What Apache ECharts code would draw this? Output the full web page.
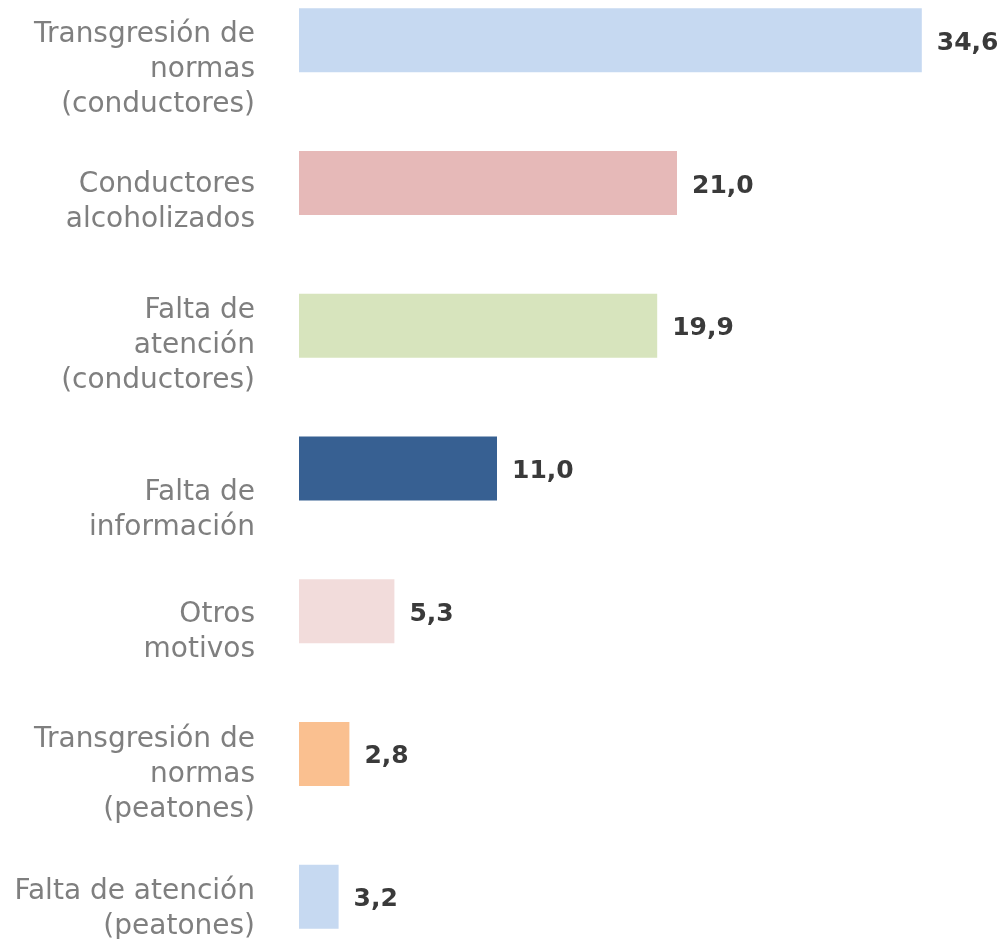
<!DOCTYPE html>
<html>
<head>
<meta charset="utf-8">
<script src="https://cdn.jsdelivr.net/npm/echarts@6/dist/echarts.min.js"></script>
<style>
  html, body { margin: 0; padding: 0; background: #fff; }
  #chart { width: 1003px; height: 939px; }
</style>
</head>
<body>
<div id="chart"></div>
<script>
// categorías (de arriba hacia abajo)
const categories = [
  'Transgresión de\nnormas\n(conductores)',
  'Conductores\nalcoholizados',
  'Falta de\natención\n(conductores)',
  'Falta de\ninformación',
  'Otros\nmotivos',
  'Transgresión de\nnormas\n(peatones)',
  'Falta de atención\n(peatones)'
];
// largo de las barras tal como se ven
const values = [34.6, 21.0, 19.9, 11.0, 5.3, 2.8, 2.2];
// etiquetas de valor impresas
const valueLabels = ['34,6', '21,0', '19,9', '11,0', '5,3', '2,8', '3,2'];

const palette = ['#c6d9f1', '#e6b9b8', '#d7e4bd', '#376092', '#f2dcdb', '#fac090', '#c6d9f1'];
// desplazamiento vertical (px) de cada etiqueta de categoría respecto a su barra
const labelShift = [29, 19, 20, 42, 21, 21, 13];

// estilos rich: una línea vacía arriba empuja el bloque hacia abajo
let rich = {
  t: {
    fontFamily: 'DejaVu Sans',
    fontSize: 28,
    lineHeight: 35,
    color: '#7f7f7f',
    align: 'right'
  }
};
labelShift.forEach((s, i) => {
  rich['g' + i] = { fontSize: 1, lineHeight: s * 2 };
});

let myChart = echarts.init(document.getElementById('chart'));

let option = {
  animation: false,
  grid: {
    left: 299,
    top: -31,
    width: 630,
    height: 999,
    containLabel: false,
    outerBoundsMode: 'none'
  },
  xAxis: {
    type: 'value',
    min: 0,
    max: 35,
    show: false
  },
  yAxis: {
    type: 'category',
    inverse: true,
    data: categories,
    axisLine: { show: false },
    axisTick: { show: false },
    splitLine: { show: false },
    axisLabel: {
      margin: 44,
      interval: 0,
      showMinLabel: true,
      showMaxLabel: true,
      hideOverlap: false,
      align: 'right',
      formatter: (value, index) => {
        let lines = value.split('\n').map(l => '{t|' + l + '}');
        return '{g' + index + '| }\n' + lines.join('\n');
      },
      rich: rich
    }
  },
  series: [{
    type: 'bar',
    data: values,
    barWidth: 64,
    itemStyle: {
      color: (p) => palette[p.dataIndex]
    },
    label: {
      show: true,
      position: 'right',
      distance: 15,
      offset: [0, 3],
      fontFamily: 'DejaVu Sans',
      fontWeight: 'bold',
      fontSize: 25,
      color: '#3a3a3a',
      formatter: (p) => valueLabels[p.dataIndex]
    }
  }]
};

myChart.setOption(option, true);

window.addEventListener('resize', () => {
  myChart.resize();
});
</script>
</body>
</html>
